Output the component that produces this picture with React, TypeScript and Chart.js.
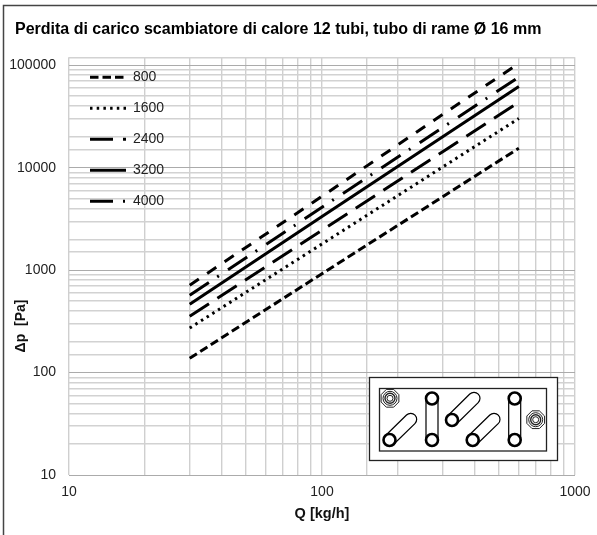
import { useEffect, useRef } from "react";
import { Chart, registerables } from "chart.js";

Chart.register(...registerables);

const TITLE = "Perdita di carico scambiatore di calore 12 tubi, tubo di rame Ø 16 mm";
const flow = [30, 100, 300, 600];
const seriesNames = ["800", "1600", "2400", "3200", "4000", "4800"];
const s800 = [138, 923, 5200, 15500];
const s1600 = [272, 1800, 10150, 30200];
const s2400 = [355, 2450, 14300, 43500];
const s3200 = [465, 3330, 20000, 62000];
const s4000 = [569, 4100, 24700, 76700];
const s4800 = [713, 5250, 33100, 104000];
const xLabels = [10, 100, 1000];
const yLabels = [10, 100, 1000, 10000, 100000];

const FONT = "'Liberation Sans', Arial, sans-serif";

const frame = {
  id: "frame",
  beforeDraw(c: any) {
    const { ctx } = c;
    ctx.save();
    ctx.strokeStyle = "#444";
    ctx.lineWidth = 1.5;
    ctx.beginPath();
    ctx.moveTo(3.5, 535);
    ctx.lineTo(3.5, 5.5);
    ctx.lineTo(597, 5.5);
    ctx.stroke();
    ctx.restore();
  },
  afterLayout(c: any) {
    c.titleBlock.left = 15;
    c.legend.left = c.chartArea.left + 4;
    c.legend.top = c.chartArea.top - 4;
  },
  afterDraw(c: any) {
    const { ctx } = c;
    ctx.save();
    ctx.translate(21, 326);
    ctx.rotate(-Math.PI / 2);
    ctx.font = `bold 14px ${FONT}`;
    ctx.fillStyle = "#111";
    ctx.textAlign = "center";
    ctx.textBaseline = "middle";
    ctx.fillText("Δp  [Pa]", 0, 0);
    ctx.restore();
  },
};

const line = (i: number, data: number[], borderDash: number[]) => ({
  label: seriesNames[i],
  data: flow.map((x, k) => ({ x, y: data[k] })),
  borderColor: "#000",
  backgroundColor: "#000",
  borderWidth: 3,
  borderDash,
  pointRadius: 0,
  tension: 0,
  fill: false,
});

function Tube({ x1, y1, x2, y2 }: { x1: number; y1: number; x2: number; y2: number }) {
  const dx = x2 - x1;
  const dy = y2 - y1;
  const len = Math.hypot(dx, dy);
  const nx = (-dy / len) * 6;
  const ny = (dx / len) * 6;
  return (
    <path
      d={`M${x1 + nx} ${y1 + ny} L${x2 + nx} ${y2 + ny} A6 6 0 0 0 ${x2 - nx} ${y2 - ny} L${x1 - nx} ${y1 - ny}`}
      fill="none"
      stroke="#000"
      strokeWidth={1.2}
    />
  );
}

const Port = ({ x, y }: { x: number; y: number }) => (
  <circle cx={x} cy={y} r={6} fill="#fff" stroke="#000" strokeWidth={2.6} />
);

function Fitting({ x, y }: { x: number; y: number }) {
  const pts = Array.from({ length: 8 }, (_, i) => {
    const a = Math.PI / 8 + (i * Math.PI) / 4;
    return `${x + 9.6 * Math.cos(a)},${y + 9.6 * Math.sin(a)}`;
  }).join(" ");
  return (
    <g fill="none" stroke="#222" strokeWidth={1}>
      <polygon points={pts} />
      <circle cx={x} cy={y} r={7} />
      <circle cx={x} cy={y} r={5} strokeWidth={1.4} />
      <circle cx={x} cy={y} r={3} />
    </g>
  );
}

export default function App() {
  const ref = useRef<HTMLCanvasElement>(null);
  useEffect(() => {
    const chart = new Chart(ref.current!, {
      type: "line",
      data: {
        datasets: [
          line(0, s800, [8.5, 4]),
          line(1, s1600, [2.5, 4.2]),
          line(2, s2400, [23, 10]),
          line(3, s3200, []),
          line(4, s4000, [23, 10, 2, 11]),
          line(5, s4800, [11, 10]),
        ],
      },
      plugins: [frame],
      options: {
        animation: false,
        responsive: false,
        devicePixelRatio: 1,
        layout: { padding: { left: 0, right: 22, top: 0, bottom: 0 } },
        plugins: {
          tooltip: { enabled: false },
          title: {
            display: true,
            text: TITLE,
            align: "start",
            color: "#000",
            font: { family: FONT, size: 16, weight: "bold" },
            padding: { top: 20, bottom: 18 },
          },
          legend: {
            display: true,
            position: "chartArea",
            align: "start",
            labels: {
              font: { family: FONT, size: 14 },
              color: "#222",
              padding: 17,
              usePointStyle: true,
              pointStyle: "line",
              pointStyleWidth: 36,
              boxHeight: 13,
              generateLabels: (c: any) =>
                c.data.datasets.slice(0, 5).map((d: any, i: number) => ({
                  text: d.label,
                  datasetIndex: i,
                  fontColor: "#222",
                  strokeStyle: "#000",
                  fillStyle: "#000",
                  lineWidth: 3,
                  lineDash: d.borderDash,
                  pointStyle: "line",
                })),
            },
          },
        },
        scales: {
          x: {
            type: "logarithmic",
            min: 10,
            max: 1000,
            afterFit: (s: any) => {
              s.height = 60;
              s.paddingRight = 0;
            },
            grid: { color: "#cfcfcf", lineWidth: 1.4, drawTicks: false },
            border: { display: false },
            ticks: {
              autoSkip: false,
              maxRotation: 0,
              padding: 9,
              color: "#222",
              font: { family: FONT, size: 14 },
              callback: (v: any) => (xLabels.includes(Number(v)) ? String(v) : ""),
            },
            title: {
              display: true,
              text: "Q [kg/h]",
              color: "#111",
              font: { family: FONT, size: 14.5, weight: "bold" },
              padding: { top: 4, bottom: 12 },
            },
          },
          y: {
            type: "logarithmic",
            min: 10,
            max: 119700,
            afterFit: (s: any) => {
              s.width = 69;
            },
            grid: {
              color: (c: any) => (yLabels.includes(c.tick?.value) ? "#ababab" : "#d2d2d2"),
              lineWidth: (c: any) => (yLabels.includes(c.tick?.value) ? 1 : 1.4),
              drawTicks: false,
            },
            border: { display: false },
            ticks: {
              autoSkip: false,
              padding: 13,
              color: "#222",
              font: { family: FONT, size: 14 },
              callback: (v: any) => (yLabels.includes(Number(v)) ? String(v) : ""),
            },
          },
        },
      },
    } as any);
    return () => chart.destroy();
  }, []);
  return (
    <div style={{ position: "absolute", left: 0, top: 0, width: 597, height: 535 }}>
      <canvas ref={ref} width={597} height={535} style={{ display: "block" }} />
      <svg width={597} height={535} style={{ position: "absolute", left: 0, top: 0 }}>
        <rect x={369.5} y={377.5} width={188} height={83} fill="#fff" stroke="#222" strokeWidth={1.3} />
        <rect x={379.5} y={388.5} width={167} height={62.5} fill="#fff" stroke="#222" strokeWidth={1.3} />
        <Tube x1={389.5} y1={440} x2={410.7} y2={419.3} />
        <Tube x1={432} y1={440} x2={432} y2={398.5} />
        <Tube x1={452} y1={420} x2={474} y2={398.3} />
        <Tube x1={472.7} y1={440} x2={494} y2={419.3} />
        <Tube x1={514.7} y1={440} x2={514.7} y2={398.5} />
        <Port x={389.5} y={440} />
        <Port x={432} y={440} />
        <Port x={432} y={398.5} />
        <Port x={452} y={420} />
        <Port x={472.7} y={440} />
        <Port x={514.7} y={440} />
        <Port x={514.7} y={398.5} />
        <Fitting x={390} y={398.3} />
        <Fitting x={535.7} y={419.7} />
      </svg>
    </div>
  );
}
